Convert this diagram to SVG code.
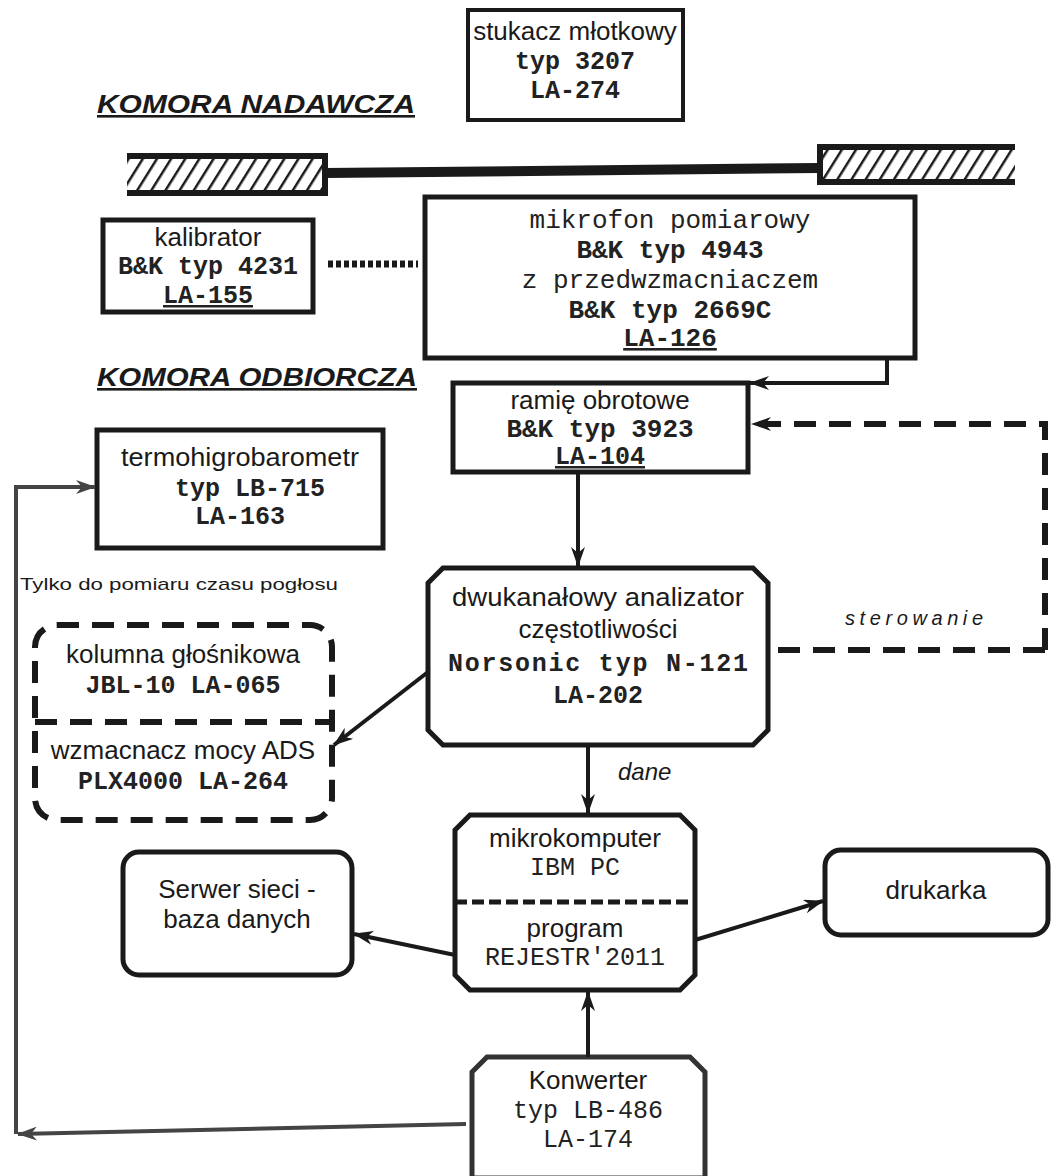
<svg xmlns="http://www.w3.org/2000/svg" width="1056" height="1176" viewBox="0 0 1056 1176">
<defs>
<style>
.box{fill:#fff;stroke:#1a1a1a;stroke-width:5}
.sans{font-family:"Liberation Sans",Arial,sans-serif;font-size:26px;fill:#1a1a1a;text-anchor:middle}
.mono{font-family:"Liberation Mono","Courier New",monospace;font-size:25px;fill:#222;text-anchor:middle}
.b{font-weight:bold}
.title{font-family:"Liberation Sans",Arial,sans-serif;font-size:26px;font-weight:bold;font-style:italic;fill:#1a1a1a;text-decoration:underline}
.ital{font-family:"Liberation Sans",Arial,sans-serif;font-style:italic;fill:#1a1a1a}
.conn{fill:none;stroke:#1a1a1a;stroke-width:4}
.grey{fill:none;stroke:#444;stroke-width:4}
.dash{fill:none;stroke:#1a1a1a;stroke-width:6;stroke-dasharray:22 13}
</style>
<pattern id="hatch" patternUnits="userSpaceOnUse" width="12" height="12" patternTransform="rotate(32)">
<rect x="0" y="0" width="2.5" height="12" fill="#1a1a1a"/>
</pattern>
<marker id="ah" viewBox="0 0 20 14" refX="19" refY="7" markerWidth="20" markerHeight="14" markerUnits="userSpaceOnUse" orient="auto">
<path d="M0,0 L20,7 L0,14 L6,7 z" fill="#1a1a1a"/>
</marker>
<marker id="ahg" viewBox="0 0 20 14" refX="19" refY="7" markerWidth="20" markerHeight="14" markerUnits="userSpaceOnUse" orient="auto">
<path d="M0,0 L20,7 L0,14 L6,7 z" fill="#444"/>
</marker>
</defs>
<rect width="1056" height="1176" fill="#fff"/>

<!-- labels -->
<text class="title" x="97" y="113" textLength="318" lengthAdjust="spacingAndGlyphs">KOMORA NADAWCZA</text>
<text class="title" x="97" y="386" textLength="320" lengthAdjust="spacingAndGlyphs">KOMORA ODBIORCZA</text>
<text x="20" y="590" style="font-family:'Liberation Sans',Arial,sans-serif;font-size:17px;fill:#1a1a1a" textLength="318" lengthAdjust="spacingAndGlyphs">Tylko do pomiaru czasu pogłosu</text>

<!-- wall -->
<g id="wall">
<rect x="127" y="156" width="198" height="37" fill="url(#hatch)"/>
<path d="M127,156 H325 V193 H127" fill="none" stroke="#1a1a1a" stroke-width="6"/>
<path d="M325,173 L820,168" stroke="#1a1a1a" stroke-width="10" fill="none"/>
<rect x="820" y="147" width="195" height="35" fill="url(#hatch)"/>
<path d="M1015,147 H820 V182 H1015" fill="none" stroke="#1a1a1a" stroke-width="6"/>
</g>

<g id="stukacz">
<rect class="box" x="468" y="10" width="215" height="110" style="stroke-width:4"/>
<text class="sans" x="575" y="40">stukacz młotkowy</text>
<text class="mono b" x="575" y="69">typ 3207</text>
<text class="mono b" x="575" y="98">LA-274</text>
</g>

<g id="kalibrator">
<rect class="box" x="103" y="220" width="210" height="92"/>
<text class="sans" x="208" y="246">kalibrator</text>
<text class="mono b" x="208" y="274">B&amp;K typ 4231</text>
<text class="mono b" x="208" y="303" style="text-decoration:underline">LA-155</text>
</g>

<g id="mikrofon">
<rect class="box" x="425" y="197" width="490" height="161"/>
<text class="mono" x="670" y="228" style="font-size:26px">mikrofon pomiarowy</text>
<text class="mono b" x="670" y="258" style="font-size:26px">B&amp;K typ 4943</text>
<text class="mono" x="670" y="288" style="font-size:26px">z przedwzmacniaczem</text>
<text class="mono b" x="670" y="318" style="font-size:26px">B&amp;K typ 2669C</text>
<text class="mono b" x="670" y="346" style="font-size:26px;text-decoration:underline">LA-126</text>
</g>

<g id="ramie">
<rect class="box" x="453" y="383" width="295" height="89"/>
<text class="sans" x="600" y="409">ramię obrotowe</text>
<text class="mono b" x="600" y="437" style="font-size:26px">B&amp;K typ 3923</text>
<text class="mono b" x="600" y="464" style="text-decoration:underline">LA-104</text>
</g>

<g id="termo">
<rect class="box" x="97" y="430" width="286" height="118"/>
<text class="sans" x="240" y="466" textLength="238" lengthAdjust="spacingAndGlyphs">termohigrobarometr</text>
<text class="mono b" x="250" y="496">typ LB-715</text>
<text class="mono b" x="240" y="524">LA-163</text>
</g>

<g id="analizator">
<path class="box" d="M443,568 H753 L768,583 V730 L753,745 H443 L428,730 V583 Z"/>
<text class="sans" x="598" y="606" textLength="292" lengthAdjust="spacingAndGlyphs">dwukanałowy analizator</text>
<text class="sans" x="598" y="638">częstotliwości</text>
<text class="mono b" x="598" y="671" textLength="300" lengthAdjust="spacing">Norsonic typ N-121</text>
<text class="mono b" x="598" y="703">LA-202</text>
</g>

<g id="glosnik">
<rect x="35" y="625" width="297" height="195" rx="22" fill="#fff" stroke="#1a1a1a" stroke-width="6" stroke-dasharray="22 13"/>
<line x1="35" y1="722" x2="332" y2="722" stroke="#1a1a1a" stroke-width="6" stroke-dasharray="22 13"/>
<text class="sans" x="183" y="663">kolumna głośnikowa</text>
<text class="mono b" x="183" y="693">JBL-10 LA-065</text>
<text class="sans" x="183" y="759">wzmacnacz mocy ADS</text>
<text class="mono b" x="183" y="789">PLX4000 LA-264</text>
</g>

<g id="mikrokomputer">
<path class="box" d="M470,815 H680 L695,830 V975 L680,990 H470 L455,975 V830 Z"/>
<line x1="455" y1="902" x2="695" y2="902" stroke="#1a1a1a" stroke-width="5" stroke-dasharray="12 5"/>
<text class="sans" x="575" y="847">mikrokomputer</text>
<text class="mono" x="575" y="875">IBM PC</text>
<text class="sans" x="575" y="937">program</text>
<text class="mono" x="575" y="965">REJESTR'2011</text>
</g>

<g id="serwer">
<rect class="box" x="123" y="852" width="229" height="123" rx="16"/>
<text class="sans" x="237" y="898">Serwer sieci -</text>
<text class="sans" x="237" y="928">baza danych</text>
</g>

<g id="drukarka">
<rect class="box" x="825" y="850" width="223" height="85" rx="16"/>
<text class="sans" x="936" y="899">drukarka</text>
</g>

<g id="konwerter">
<path class="box" d="M487,1057 H690 L705,1072 V1178 H472 V1072 Z" style="stroke:#333"/>
<text class="sans" x="588" y="1089">Konwerter</text>
<text class="mono" x="588" y="1118">typ LB-486</text>
<text class="mono" x="588" y="1147">LA-174</text>
</g>

<!-- connectors -->
<g id="connectors">
<line x1="328" y1="264" x2="418" y2="264" stroke="#1a1a1a" stroke-width="7" stroke-dasharray="5 3"/>
<path class="conn" d="M887,358 V383 H750" marker-end="url(#ah)"/>
<path class="dash" d="M1045,650 H770"/>
<path class="dash" d="M1045,650 V424 H752" marker-end="url(#ah)"/>
<text class="ital" x="845" y="625" style="font-size:20px" textLength="138" lengthAdjust="spacing">sterowanie</text>
<path class="conn" d="M578,472 V566" marker-end="url(#ah)"/>
<path class="conn" d="M428,672 L334,745" marker-end="url(#ah)"/>
<path class="conn" d="M588,745 V813" marker-end="url(#ah)"/>
<text class="ital" x="618" y="780" style="font-size:24px">dane</text>
<path class="conn" d="M455,955 L354,934" marker-end="url(#ah)"/>
<path class="conn" d="M695,940 L823,901" marker-end="url(#ah)"/>
<path class="conn" d="M588,1057 V992" marker-end="url(#ah)"/>
<path class="grey" d="M466,1124 L18,1134" marker-end="url(#ahg)"/>
<path class="grey" d="M16,1134 V487 H95" marker-end="url(#ahg)"/>
</g>
</svg>
